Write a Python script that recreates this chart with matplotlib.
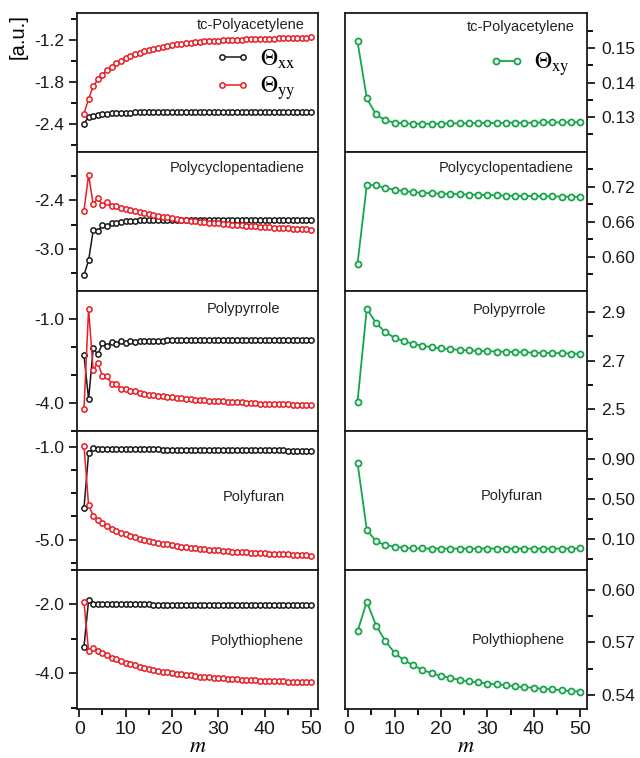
import numpy as np
import matplotlib
matplotlib.use("Agg")
import matplotlib.pyplot as plt

plt.rcParams['font.family'] = ['Liberation Sans', 'DejaVu Sans']
plt.rcParams['mathtext.fontset'] = 'stix'

# ---------------- data ----------------
m_left = list(range(1, 51))
m_right = list(range(2, 51, 2))

names = ["tc-Polyacetylene", "Polycyclopentadiene", "Polypyrrole", "Polyfuran", "Polythiophene"]

xx_acet = [-2.39, -2.30, -2.28, -2.265, -2.255, -2.25, -2.245, -2.24, -2.237, -2.235,
           -2.233, -2.231, -2.23, -2.229, -2.228, -2.227, -2.226, -2.226, -2.225, -2.225,
           -2.224, -2.224, -2.224, -2.224, -2.224, -2.223, -2.223, -2.223, -2.223, -2.223,
           -2.222, -2.222, -2.222, -2.222, -2.222, -2.221, -2.221, -2.221, -2.221, -2.221,
           -2.22, -2.22, -2.22, -2.22, -2.22, -2.22, -2.22, -2.22, -2.22, -2.22]
yy_acet = [-2.25, -2.04, -1.86, -1.76, -1.69, -1.63, -1.58, -1.53, -1.49, -1.45,
           -1.42, -1.40, -1.38, -1.36, -1.34, -1.32, -1.305, -1.29, -1.275, -1.265,
           -1.255, -1.247, -1.24, -1.233, -1.227, -1.222, -1.217, -1.213, -1.209, -1.205,
           -1.202, -1.199, -1.196, -1.193, -1.19, -1.188, -1.186, -1.184, -1.182, -1.18,
           -1.178, -1.176, -1.174, -1.172, -1.17, -1.168, -1.166, -1.164, -1.162, -1.16]

xx_cpd = [-3.32, -3.14, -2.77, -2.78, -2.71, -2.72, -2.68, -2.68, -2.665, -2.66,
          -2.655, -2.65, -2.648, -2.645, -2.643, -2.642, -2.641, -2.64, -2.64, -2.64,
          -2.64, -2.64, -2.64, -2.64, -2.64, -2.64, -2.64, -2.64, -2.64, -2.64,
          -2.64, -2.64, -2.64, -2.64, -2.64, -2.64, -2.64, -2.64, -2.64, -2.64,
          -2.64, -2.64, -2.64, -2.64, -2.64, -2.64, -2.64, -2.64, -2.64, -2.64]
yy_cpd = [-2.53, -2.09, -2.45, -2.37, -2.46, -2.42, -2.47, -2.47, -2.50, -2.51,
          -2.522, -2.534, -2.545, -2.556, -2.567, -2.578, -2.589, -2.60, -2.61, -2.62,
          -2.63, -2.638, -2.645, -2.652, -2.658, -2.664, -2.67, -2.675, -2.68, -2.685,
          -2.69, -2.695, -2.70, -2.704, -2.708, -2.712, -2.716, -2.72, -2.724, -2.728,
          -2.732, -2.736, -2.739, -2.742, -2.745, -2.748, -2.751, -2.754, -2.757, -2.76]

xx_pyr = [-2.27, -3.88, -2.05, -2.26, -1.87, -1.96, -1.81, -1.89, -1.79, -1.84,
          -1.79, -1.81, -1.78, -1.79, -1.77, -1.775, -1.765, -1.765, -1.76, -1.76,
          -1.76, -1.76, -1.76, -1.76, -1.76, -1.76, -1.76, -1.76, -1.76, -1.76,
          -1.76, -1.76, -1.76, -1.76, -1.76, -1.76, -1.76, -1.76, -1.76, -1.76,
          -1.76, -1.76, -1.76, -1.76, -1.76, -1.76, -1.76, -1.76, -1.76, -1.76]
yy_pyr = [-4.24, -0.64, -2.83, -2.56, -3.05, -3.05, -3.34, -3.34, -3.49, -3.49,
          -3.59, -3.59, -3.66, -3.68, -3.71, -3.73, -3.75, -3.77, -3.79, -3.81,
          -3.83, -3.845, -3.86, -3.875, -3.89, -3.90, -3.91, -3.92, -3.93, -3.94,
          -3.95, -3.96, -3.97, -3.98, -3.99, -4.0, -4.01, -4.02, -4.03, -4.035,
          -4.04, -4.045, -4.05, -4.055, -4.06, -4.065, -4.07, -4.075, -4.08, -4.085]

xx_fur = [-3.65, -1.29, -1.06, -1.08, -1.09, -1.10, -1.10, -1.10, -1.11, -1.11,
          -1.11, -1.11, -1.12, -1.12, -1.12, -1.12, -1.12, -1.13, -1.13, -1.13,
          -1.13, -1.13, -1.13, -1.14, -1.14, -1.14, -1.14, -1.14, -1.14, -1.15,
          -1.15, -1.15, -1.15, -1.15, -1.15, -1.15, -1.16, -1.16, -1.16, -1.16,
          -1.16, -1.16, -1.16, -1.16, -1.17, -1.17, -1.17, -1.17, -1.17, -1.17]
yy_fur = [-0.96, -3.51, -3.97, -4.15, -4.30, -4.42, -4.53, -4.62, -4.70, -4.77,
          -4.84, -4.90, -4.95, -5.00, -5.05, -5.09, -5.13, -5.17, -5.20, -5.23,
          -5.26, -5.29, -5.32, -5.34, -5.36, -5.38, -5.40, -5.42, -5.44, -5.46,
          -5.475, -5.49, -5.505, -5.52, -5.53, -5.54, -5.55, -5.56, -5.57, -5.58,
          -5.59, -5.60, -5.61, -5.62, -5.63, -5.64, -5.65, -5.66, -5.67, -5.68]

xx_thi = [-3.23, -1.88, -2.0, -2.0, -2.0, -2.0, -2.0, -2.0, -2.0, -2.0,
          -2.0, -2.0, -2.0, -2.0, -2.0, -2.005, -2.005, -2.005, -2.005, -2.005,
          -2.005, -2.005, -2.005, -2.005, -2.01, -2.01, -2.01, -2.01, -2.01, -2.01,
          -2.01, -2.01, -2.01, -2.01, -2.015, -2.015, -2.015, -2.015, -2.015, -2.015,
          -2.015, -2.015, -2.02, -2.02, -2.02, -2.02, -2.02, -2.02, -2.02, -2.02]
yy_thi = [-1.93, -3.35, -3.26, -3.35, -3.42, -3.48, -3.54, -3.59, -3.64, -3.69,
          -3.73, -3.77, -3.81, -3.84, -3.87, -3.90, -3.93, -3.95, -3.97, -3.99,
          -4.01, -4.03, -4.05, -4.06, -4.08, -4.09, -4.10, -4.11, -4.12, -4.13,
          -4.14, -4.15, -4.16, -4.17, -4.18, -4.185, -4.19, -4.20, -4.205, -4.21,
          -4.215, -4.22, -4.225, -4.23, -4.235, -4.24, -4.245, -4.25, -4.255, -4.26]

xy_acet = [0.1520, 0.1354, 0.1307, 0.1290, 0.1283, 0.1281, 0.1280, 0.1280, 0.1280, 0.1280,
           0.1281, 0.1281, 0.1281, 0.1282, 0.1282, 0.1282, 0.1283, 0.1283, 0.1283, 0.1283,
           0.1284, 0.1284, 0.1284, 0.1284, 0.1285]
xy_cpd = [0.5885, 0.723, 0.723, 0.718, 0.7155, 0.713, 0.711, 0.710, 0.709, 0.7085,
          0.708, 0.7075, 0.707, 0.7065, 0.706, 0.7055, 0.705, 0.7048, 0.7045, 0.7042,
          0.704, 0.7037, 0.7035, 0.7032, 0.703]
xy_pyr = [2.53, 2.914, 2.855, 2.817, 2.794, 2.78, 2.769, 2.761, 2.755, 2.75,
          2.747, 2.744, 2.742, 2.740, 2.739, 2.737, 2.736, 2.735, 2.734, 2.733,
          2.732, 2.731, 2.730, 2.729, 2.728]
xy_fur = [0.86, 0.193, 0.077, 0.040, 0.023, 0.013, 0.008, 0.006, 0.005, 0.005,
          0.005, 0.005, 0.005, 0.005, 0.005, 0.005, 0.005, 0.005, 0.005, 0.005,
          0.005, 0.005, 0.005, 0.005, 0.006]
xy_thi = [0.5762, 0.5932, 0.5796, 0.5708, 0.5640, 0.5598, 0.5570, 0.5543, 0.5525, 0.5509,
          0.5498, 0.5487, 0.5478, 0.5472, 0.5466, 0.5461, 0.5457, 0.5450, 0.5444, 0.5443,
          0.5434, 0.5434, 0.5427, 0.5423, 0.5420]

xx_all = [xx_acet, xx_cpd, xx_pyr, xx_fur, xx_thi]
yy_all = [yy_acet, yy_cpd, yy_pyr, yy_fur, yy_thi]
xy_all = [xy_acet, xy_cpd, xy_pyr, xy_fur, xy_thi]

# tick values / labels
left_major = [[-1.2, -1.8, -2.4], [-2.4, -3.0], [-1.0, -4.0], [-1.0, -5.0], [-2.0, -4.0]]
left_major_lbl = [["-1.2", "-1.8", "-2.4"], ["-2.4", "-3.0"], ["-1.0", "-4.0"], ["-1.0", "-5.0"], ["-2.0", "-4.0"]]
left_minor = [[-0.9, -1.5, -2.1, -2.7], [-2.1, -2.7, -3.3], [-2.0, -3.0, -5.0], [-2.0, -3.0, -4.0, -6.0], [-1.0, -3.0, -5.0]]
left_ylim = [(-2.8, -0.81), (-3.52, -1.81), (-5.0, 0.0), (-6.29, -0.31), (-5.03, -1.0)]

right_major = [[0.13, 0.14, 0.15], [0.60, 0.66, 0.72], [2.5, 2.7, 2.9], [0.10, 0.50, 0.90], [0.54, 0.57, 0.60]]
right_major_lbl = [["0.13", "0.14", "0.15"], ["0.60", "0.66", "0.72"], ["2.5", "2.7", "2.9"],
                   ["0.10", "0.50", "0.90"], ["0.54", "0.57", "0.60"]]
right_minor = [[0.125, 0.135, 0.145, 0.155], [0.57, 0.63, 0.69, 0.75], [2.6, 2.8],
               [-0.10, 0.30, 0.70, 1.10], [0.555, 0.585]]
right_ylim = [(0.1197, 0.1603), (0.541, 0.7795), (2.41, 2.986), (-0.207, 1.183), (0.5321, 0.6113)]

x_major = [0, 10, 20, 30, 40, 50]
x_minor = [5, 15, 25, 35, 45]

# ---------------- styling ----------------
RED = '#ec1c24'
GREEN = '#16a64a'
BLACK = '#1a1a1a'

left_name_pos = [(0.946, 0.914), (0.946, 0.883), (0.842, 0.87), (0.863, 0.52), (0.939, 0.489)]
right_name_pos = [(0.950, 0.90), (0.943, 0.883), (0.833, 0.863), (0.819, 0.527), (0.909, 0.496)]

W, H = 640, 758
fig = plt.figure(figsize=(W / 100, H / 100), dpi=100)

top_px, bot_px = 13, 709
ph = (bot_px - top_px) / 5.0
lx0, lx1 = 77, 318
rx0, rx1 = 345, 587


def style_axis(ax, side):
    for s in ax.spines.values():
        s.set_linewidth(1.3)
        s.set_color(BLACK)
    ax.tick_params(axis='both', which='major', direction='out', length=6, width=1.3,
                   labelsize=12.5, colors=BLACK)
    ax.tick_params(axis='both', which='minor', direction='out', length=4, width=1.3)
    if side == 'left':
        ax.tick_params(axis='y', which='both', left=True, right=False, labelleft=True, labelright=False)
    else:
        ax.tick_params(axis='y', which='both', left=False, right=True, labelleft=False, labelright=True)
        ax.tick_params(axis='y', which='major', pad=4)


for i in range(5):
    y_top = top_px + i * ph
    bottom = 1 - (y_top + ph) / H
    # left column
    axl = fig.add_axes([lx0 / W, bottom, (lx1 - lx0) / W, ph / H])
    l1, = axl.plot(m_left, xx_all[i], '-o', color=BLACK, mfc='white', mec=BLACK,
                   ms=3.8, mew=1.1, lw=1.1)
    l2, = axl.plot(m_left, yy_all[i], '-o', color=RED, mfc='white', mec=RED,
                   ms=3.8, mew=1.1, lw=1.1)
    axl.set_xlim(-0.5, 51.5)
    axl.set_ylim(*left_ylim[i])
    axl.set_yticks(left_major[i])
    axl.set_yticklabels(left_major_lbl[i])
    axl.set_yticks(left_minor[i], minor=True)
    style_axis(axl, 'left')
    axl.text(*left_name_pos[i], names[i], transform=axl.transAxes, ha='right', va='center',
             fontsize=10.5, color='#222222')

    # right column
    axr = fig.add_axes([rx0 / W, bottom, (rx1 - rx0) / W, ph / H])
    l3, = axr.plot(m_right, xy_all[i], '-o', color=GREEN, mfc='white', mec=GREEN,
                   ms=4.3, mew=1.3, lw=1.3)
    axr.set_xlim(-0.7, 51.5)
    axr.set_ylim(*right_ylim[i])
    axr.set_yticks(right_major[i])
    axr.set_yticklabels(right_major_lbl[i])
    axr.set_yticks(right_minor[i], minor=True)
    style_axis(axr, 'right')
    axr.text(*right_name_pos[i], names[i], transform=axr.transAxes, ha='right', va='center',
             fontsize=10.5, color='#222222')

    for ax in (axl, axr):
        if i == 4:
            ax.set_xticks(x_major)
            ax.set_xticks(x_minor, minor=True)
            ax.tick_params(axis='x', which='both', bottom=True, top=False, labelbottom=True)
            ax.tick_params(axis='x', which='major', labelsize=14, pad=3)
            ax.set_xlabel('$m$', fontsize=16, labelpad=-2)
        else:
            ax.set_xticks([])
            ax.set_xticks([], minor=True)

    if i == 0:
        leg = axl.legend([l1, l2], [r'$\Theta_{\mathrm{xx}}$', r'$\Theta_{\mathrm{yy}}$'],
                         loc='center', bbox_to_anchor=(0.74, 0.555), frameon=False,
                         numpoints=2, handlelength=1.5, handletextpad=0.4,
                         labelspacing=0.15, fontsize=17, borderpad=0)
        leg2 = axr.legend([l3], [r'$\Theta_{\mathrm{xy}}$'], loc='center',
                          bbox_to_anchor=(0.76, 0.63), frameon=False, numpoints=2,
                          handlelength=1.5, handletextpad=0.4, fontsize=17, borderpad=0)

fig.text(18 / W, 1 - 37 / H, '[a.u.]', rotation=90, ha='center', va='center', fontsize=14.5)

fig.savefig('out.png', dpi=100)
